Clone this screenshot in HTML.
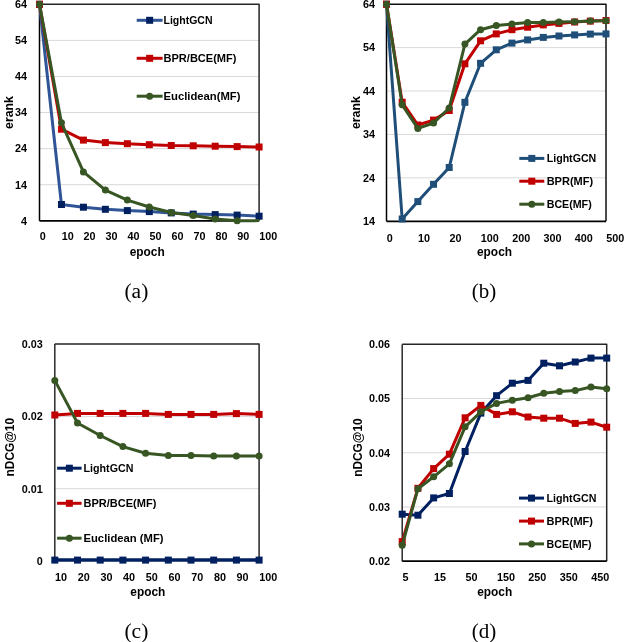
<!DOCTYPE html>
<html><head><meta charset="utf-8"><style>
html,body{margin:0;padding:0;background:#fff;width:626px;height:642px;overflow:hidden}
svg{display:block;will-change:transform}
</style></head><body>
<svg width="626" height="642" viewBox="0 0 626 642">
<rect width="626" height="642" fill="#fff"/>
<line x1="39.5" y1="184.71666666666667" x2="259.1" y2="184.71666666666667" stroke="#D9D9D9" stroke-width="1"/>
<line x1="39.5" y1="148.63333333333333" x2="259.1" y2="148.63333333333333" stroke="#D9D9D9" stroke-width="1"/>
<line x1="39.5" y1="112.55000000000001" x2="259.1" y2="112.55000000000001" stroke="#D9D9D9" stroke-width="1"/>
<line x1="39.5" y1="76.46666666666667" x2="259.1" y2="76.46666666666667" stroke="#D9D9D9" stroke-width="1"/>
<line x1="39.5" y1="40.383333333333354" x2="259.1" y2="40.383333333333354" stroke="#D9D9D9" stroke-width="1"/>
<text x="27" y="224.60000000000002" font-family='"Liberation Sans", sans-serif' font-size="10.8" font-weight="bold" text-anchor="end" fill="#000" >4</text>
<text x="27" y="188.51666666666668" font-family='"Liberation Sans", sans-serif' font-size="10.8" font-weight="bold" text-anchor="end" fill="#000" >14</text>
<text x="27" y="152.43333333333334" font-family='"Liberation Sans", sans-serif' font-size="10.8" font-weight="bold" text-anchor="end" fill="#000" >24</text>
<text x="27" y="116.35000000000001" font-family='"Liberation Sans", sans-serif' font-size="10.8" font-weight="bold" text-anchor="end" fill="#000" >34</text>
<text x="27" y="80.26666666666667" font-family='"Liberation Sans", sans-serif' font-size="10.8" font-weight="bold" text-anchor="end" fill="#000" >44</text>
<text x="27" y="44.18333333333335" font-family='"Liberation Sans", sans-serif' font-size="10.8" font-weight="bold" text-anchor="end" fill="#000" >54</text>
<text x="27" y="8.100000000000012" font-family='"Liberation Sans", sans-serif' font-size="10.8" font-weight="bold" text-anchor="end" fill="#000" >64</text>
<text x="39.7" y="240.2" font-family='"Liberation Sans", sans-serif' font-size="10.8" font-weight="bold" text-anchor="start" fill="#000" >0</text>
<text x="61.660000000000004" y="240.2" font-family='"Liberation Sans", sans-serif' font-size="10.8" font-weight="bold" text-anchor="start" fill="#000" >10</text>
<text x="83.62" y="240.2" font-family='"Liberation Sans", sans-serif' font-size="10.8" font-weight="bold" text-anchor="start" fill="#000" >20</text>
<text x="105.58000000000001" y="240.2" font-family='"Liberation Sans", sans-serif' font-size="10.8" font-weight="bold" text-anchor="start" fill="#000" >30</text>
<text x="127.54" y="240.2" font-family='"Liberation Sans", sans-serif' font-size="10.8" font-weight="bold" text-anchor="start" fill="#000" >40</text>
<text x="149.5" y="240.2" font-family='"Liberation Sans", sans-serif' font-size="10.8" font-weight="bold" text-anchor="start" fill="#000" >50</text>
<text x="171.46" y="240.2" font-family='"Liberation Sans", sans-serif' font-size="10.8" font-weight="bold" text-anchor="start" fill="#000" >60</text>
<text x="193.42000000000002" y="240.2" font-family='"Liberation Sans", sans-serif' font-size="10.8" font-weight="bold" text-anchor="start" fill="#000" >70</text>
<text x="215.38" y="240.2" font-family='"Liberation Sans", sans-serif' font-size="10.8" font-weight="bold" text-anchor="start" fill="#000" >80</text>
<text x="237.34" y="240.2" font-family='"Liberation Sans", sans-serif' font-size="10.8" font-weight="bold" text-anchor="start" fill="#000" >90</text>
<text x="259.3" y="240.2" font-family='"Liberation Sans", sans-serif' font-size="10.8" font-weight="bold" text-anchor="start" fill="#000" >100</text>
<text x="147.2" y="256.1" font-family='"Liberation Sans", sans-serif' font-size="12" font-weight="bold" text-anchor="middle" fill="#000" textLength="35" lengthAdjust="spacingAndGlyphs" >epoch</text>
<text x="0" y="0" transform="translate(12.6,112.5) rotate(-90)" font-family='"Liberation Sans", sans-serif' font-size="12.2" font-weight="bold" text-anchor="middle" textLength="33" lengthAdjust="spacingAndGlyphs">erank</text>
<polyline points="39.5,4.3 259.1,4.3 259.1,220.8" fill="none" stroke="#262626" stroke-width="1.5" stroke-linejoin="round"/>
<line x1="39.5" y1="4.3" x2="39.5" y2="220.8" stroke="#000" stroke-width="1.5"/>
<line x1="39.5" y1="220.8" x2="259.1" y2="220.8" stroke="#000" stroke-width="1.7"/>
<polyline points="39.50,4.30 61.46,204.50 83.42,207.20 105.38,209.30 127.34,210.60 149.30,211.60 171.26,212.90 193.22,214.10 215.18,214.60 237.14,215.10 259.10,216.20" fill="none" stroke="#2F5597" stroke-width="3" stroke-linejoin="round" stroke-linecap="round"/>
<rect x="36.00" y="0.80" width="7" height="7" fill="#002060"/>
<rect x="57.96" y="201.00" width="7" height="7" fill="#002060"/>
<rect x="79.92" y="203.70" width="7" height="7" fill="#002060"/>
<rect x="101.88" y="205.80" width="7" height="7" fill="#002060"/>
<rect x="123.84" y="207.10" width="7" height="7" fill="#002060"/>
<rect x="145.80" y="208.10" width="7" height="7" fill="#002060"/>
<rect x="167.76" y="209.40" width="7" height="7" fill="#002060"/>
<rect x="189.72" y="210.60" width="7" height="7" fill="#002060"/>
<rect x="211.68" y="211.10" width="7" height="7" fill="#002060"/>
<rect x="233.64" y="211.60" width="7" height="7" fill="#002060"/>
<rect x="255.60" y="212.70" width="7" height="7" fill="#002060"/>
<polyline points="39.50,4.30 61.46,129.20 83.42,140.10 105.38,142.60 127.34,143.70 149.30,144.70 171.26,145.50 193.22,145.80 215.18,146.20 237.14,146.60 259.10,147.00" fill="none" stroke="#C00000" stroke-width="3" stroke-linejoin="round" stroke-linecap="round"/>
<rect x="36.00" y="0.80" width="7" height="7" fill="#C00000"/>
<rect x="57.96" y="125.70" width="7" height="7" fill="#C00000"/>
<rect x="79.92" y="136.60" width="7" height="7" fill="#C00000"/>
<rect x="101.88" y="139.10" width="7" height="7" fill="#C00000"/>
<rect x="123.84" y="140.20" width="7" height="7" fill="#C00000"/>
<rect x="145.80" y="141.20" width="7" height="7" fill="#C00000"/>
<rect x="167.76" y="142.00" width="7" height="7" fill="#C00000"/>
<rect x="189.72" y="142.30" width="7" height="7" fill="#C00000"/>
<rect x="211.68" y="142.70" width="7" height="7" fill="#C00000"/>
<rect x="233.64" y="143.10" width="7" height="7" fill="#C00000"/>
<rect x="255.60" y="143.50" width="7" height="7" fill="#C00000"/>
<polyline points="39.50,4.30 61.46,122.80 83.42,171.90 105.38,190.10 127.34,200.10 149.30,207.00 171.26,212.50 193.22,215.40 215.18,218.90 237.14,220.80" fill="none" stroke="#375623" stroke-width="3" stroke-linejoin="round" stroke-linecap="round"/>
<circle cx="39.50" cy="4.30" r="3.5" fill="#375623"/>
<circle cx="61.46" cy="122.80" r="3.5" fill="#375623"/>
<circle cx="83.42" cy="171.90" r="3.5" fill="#375623"/>
<circle cx="105.38" cy="190.10" r="3.5" fill="#375623"/>
<circle cx="127.34" cy="200.10" r="3.5" fill="#375623"/>
<circle cx="149.30" cy="207.00" r="3.5" fill="#375623"/>
<circle cx="171.26" cy="212.50" r="3.5" fill="#375623"/>
<circle cx="193.22" cy="215.40" r="3.5" fill="#375623"/>
<circle cx="215.18" cy="218.90" r="3.5" fill="#375623"/>
<circle cx="237.14" cy="220.80" r="3.5" fill="#375623"/>
<line x1="237.14000000000001" y1="220.8" x2="259.1" y2="220.6" stroke="#375623" stroke-width="3"/>
<line x1="136.7" y1="20.3" x2="162.6" y2="20.3" stroke="#2F5597" stroke-width="3"/>
<rect x="146.15" y="16.80" width="7" height="7" fill="#002060"/>
<text x="163.5" y="24.1" font-family='"Liberation Sans", sans-serif' font-size="10.5" font-weight="bold" text-anchor="start" fill="#000" textLength="49" lengthAdjust="spacingAndGlyphs" >LightGCN</text>
<line x1="136.7" y1="58.3" x2="162.6" y2="58.3" stroke="#C00000" stroke-width="3"/>
<rect x="146.15" y="54.80" width="7" height="7" fill="#C00000"/>
<text x="163.5" y="62.1" font-family='"Liberation Sans", sans-serif' font-size="10.5" font-weight="bold" text-anchor="start" fill="#000" textLength="73" lengthAdjust="spacingAndGlyphs" >BPR/BCE(MF)</text>
<line x1="136.7" y1="96.2" x2="162.6" y2="96.2" stroke="#375623" stroke-width="3"/>
<circle cx="149.65" cy="96.20" r="3.5" fill="#375623"/>
<text x="163.5" y="99.9" font-family='"Liberation Sans", sans-serif' font-size="10.5" font-weight="bold" text-anchor="start" fill="#000" textLength="77" lengthAdjust="spacingAndGlyphs" >Euclidean(MF)</text>
<text x="136.4" y="297.5" font-family='"Liberation Serif", serif' font-size="20" font-weight="normal" text-anchor="middle" fill="#000" textLength="23.9" lengthAdjust="spacingAndGlyphs" >(a)</text>
<line x1="386.5" y1="177.88" x2="606.0" y2="177.88" stroke="#D9D9D9" stroke-width="1"/>
<line x1="386.5" y1="134.46" x2="606.0" y2="134.46" stroke="#D9D9D9" stroke-width="1"/>
<line x1="386.5" y1="91.03999999999999" x2="606.0" y2="91.03999999999999" stroke="#D9D9D9" stroke-width="1"/>
<line x1="386.5" y1="47.620000000000005" x2="606.0" y2="47.620000000000005" stroke="#D9D9D9" stroke-width="1"/>
<text x="375" y="225.10000000000002" font-family='"Liberation Sans", sans-serif' font-size="10.8" font-weight="bold" text-anchor="end" fill="#000" >14</text>
<text x="375" y="181.68" font-family='"Liberation Sans", sans-serif' font-size="10.8" font-weight="bold" text-anchor="end" fill="#000" >24</text>
<text x="375" y="138.26000000000002" font-family='"Liberation Sans", sans-serif' font-size="10.8" font-weight="bold" text-anchor="end" fill="#000" >34</text>
<text x="375" y="94.83999999999999" font-family='"Liberation Sans", sans-serif' font-size="10.8" font-weight="bold" text-anchor="end" fill="#000" >44</text>
<text x="375" y="51.42" font-family='"Liberation Sans", sans-serif' font-size="10.8" font-weight="bold" text-anchor="end" fill="#000" >54</text>
<text x="375" y="7.9999999999999885" font-family='"Liberation Sans", sans-serif' font-size="10.8" font-weight="bold" text-anchor="end" fill="#000" >64</text>
<text x="386.7" y="241.5" font-family='"Liberation Sans", sans-serif' font-size="10.8" font-weight="bold" text-anchor="start" fill="#000" >0</text>
<text x="418.0571428571428" y="241.5" font-family='"Liberation Sans", sans-serif' font-size="10.8" font-weight="bold" text-anchor="start" fill="#000" >10</text>
<text x="449.4142857142857" y="241.5" font-family='"Liberation Sans", sans-serif' font-size="10.8" font-weight="bold" text-anchor="start" fill="#000" >20</text>
<text x="480.77142857142854" y="241.5" font-family='"Liberation Sans", sans-serif' font-size="10.8" font-weight="bold" text-anchor="start" fill="#000" >100</text>
<text x="512.1285714285715" y="241.5" font-family='"Liberation Sans", sans-serif' font-size="10.8" font-weight="bold" text-anchor="start" fill="#000" >200</text>
<text x="543.4857142857143" y="241.5" font-family='"Liberation Sans", sans-serif' font-size="10.8" font-weight="bold" text-anchor="start" fill="#000" >300</text>
<text x="574.8428571428572" y="241.5" font-family='"Liberation Sans", sans-serif' font-size="10.8" font-weight="bold" text-anchor="start" fill="#000" >400</text>
<text x="606.2" y="241.5" font-family='"Liberation Sans", sans-serif' font-size="10.8" font-weight="bold" text-anchor="start" fill="#000" >500</text>
<text x="494.5" y="256.2" font-family='"Liberation Sans", sans-serif' font-size="12" font-weight="bold" text-anchor="middle" fill="#000" textLength="35" lengthAdjust="spacingAndGlyphs" >epoch</text>
<text x="0" y="0" transform="translate(360.2,112.6) rotate(-90)" font-family='"Liberation Sans", sans-serif' font-size="12.2" font-weight="bold" text-anchor="middle" textLength="33" lengthAdjust="spacingAndGlyphs">erank</text>
<polyline points="386.5,4.2 606.0,4.2 606.0,221.3" fill="none" stroke="#111" stroke-width="1.5" stroke-linejoin="round"/>
<line x1="386.5" y1="4.2" x2="386.5" y2="221.3" stroke="#000" stroke-width="1.5"/>
<line x1="386.5" y1="221.3" x2="606.0" y2="221.3" stroke="#000" stroke-width="1.7"/>
<polyline points="386.50,4.20 402.18,219.00 417.86,201.60 433.54,184.30 449.21,167.50 464.89,102.30 480.57,63.30 496.25,49.80 511.93,43.10 527.61,39.90 543.29,37.40 558.96,36.00 574.64,34.90 590.32,34.10 606.00,33.90" fill="none" stroke="#1F4E79" stroke-width="3" stroke-linejoin="round" stroke-linecap="round"/>
<rect x="383.00" y="0.70" width="7" height="7" fill="#1F4E79"/>
<rect x="398.68" y="215.50" width="7" height="7" fill="#1F4E79"/>
<rect x="414.36" y="198.10" width="7" height="7" fill="#1F4E79"/>
<rect x="430.04" y="180.80" width="7" height="7" fill="#1F4E79"/>
<rect x="445.71" y="164.00" width="7" height="7" fill="#1F4E79"/>
<rect x="461.39" y="98.80" width="7" height="7" fill="#1F4E79"/>
<rect x="477.07" y="59.80" width="7" height="7" fill="#1F4E79"/>
<rect x="492.75" y="46.30" width="7" height="7" fill="#1F4E79"/>
<rect x="508.43" y="39.60" width="7" height="7" fill="#1F4E79"/>
<rect x="524.11" y="36.40" width="7" height="7" fill="#1F4E79"/>
<rect x="539.79" y="33.90" width="7" height="7" fill="#1F4E79"/>
<rect x="555.46" y="32.50" width="7" height="7" fill="#1F4E79"/>
<rect x="571.14" y="31.40" width="7" height="7" fill="#1F4E79"/>
<rect x="586.82" y="30.60" width="7" height="7" fill="#1F4E79"/>
<rect x="602.50" y="30.40" width="7" height="7" fill="#1F4E79"/>
<polyline points="386.50,4.20 402.18,102.20 417.86,125.00 433.54,120.10 449.21,110.50 464.89,63.80 480.57,40.80 496.25,33.90 511.93,29.70 527.61,27.20 543.29,24.90 558.96,23.40 574.64,22.00 590.32,21.10 606.00,20.50" fill="none" stroke="#C00000" stroke-width="3" stroke-linejoin="round" stroke-linecap="round"/>
<rect x="383.00" y="0.70" width="7" height="7" fill="#C00000"/>
<rect x="398.68" y="98.70" width="7" height="7" fill="#C00000"/>
<rect x="414.36" y="121.50" width="7" height="7" fill="#C00000"/>
<rect x="430.04" y="116.60" width="7" height="7" fill="#C00000"/>
<rect x="445.71" y="107.00" width="7" height="7" fill="#C00000"/>
<rect x="461.39" y="60.30" width="7" height="7" fill="#C00000"/>
<rect x="477.07" y="37.30" width="7" height="7" fill="#C00000"/>
<rect x="492.75" y="30.40" width="7" height="7" fill="#C00000"/>
<rect x="508.43" y="26.20" width="7" height="7" fill="#C00000"/>
<rect x="524.11" y="23.70" width="7" height="7" fill="#C00000"/>
<rect x="539.79" y="21.40" width="7" height="7" fill="#C00000"/>
<rect x="555.46" y="19.90" width="7" height="7" fill="#C00000"/>
<rect x="571.14" y="18.50" width="7" height="7" fill="#C00000"/>
<rect x="586.82" y="17.60" width="7" height="7" fill="#C00000"/>
<rect x="602.50" y="17.00" width="7" height="7" fill="#C00000"/>
<polyline points="386.50,4.20 402.18,104.80 417.86,128.40 433.54,123.00 449.21,108.00 464.89,44.10 480.57,29.70 496.25,25.50 511.93,24.00 527.61,22.60 543.29,22.40 558.96,22.00 574.64,21.70 590.32,21.10 606.00,20.70" fill="none" stroke="#375623" stroke-width="3" stroke-linejoin="round" stroke-linecap="round"/>
<circle cx="386.50" cy="4.20" r="3.5" fill="#375623"/>
<circle cx="402.18" cy="104.80" r="3.5" fill="#375623"/>
<circle cx="417.86" cy="128.40" r="3.5" fill="#375623"/>
<circle cx="433.54" cy="123.00" r="3.5" fill="#375623"/>
<circle cx="449.21" cy="108.00" r="3.5" fill="#375623"/>
<circle cx="464.89" cy="44.10" r="3.5" fill="#375623"/>
<circle cx="480.57" cy="29.70" r="3.5" fill="#375623"/>
<circle cx="496.25" cy="25.50" r="3.5" fill="#375623"/>
<circle cx="511.93" cy="24.00" r="3.5" fill="#375623"/>
<circle cx="527.61" cy="22.60" r="3.5" fill="#375623"/>
<circle cx="543.29" cy="22.40" r="3.5" fill="#375623"/>
<circle cx="558.96" cy="22.00" r="3.5" fill="#375623"/>
<circle cx="574.64" cy="21.70" r="3.5" fill="#375623"/>
<circle cx="590.32" cy="21.10" r="3.5" fill="#375623"/>
<circle cx="606.00" cy="20.70" r="3.5" fill="#375623"/>
<line x1="519.3" y1="158.4" x2="544.3" y2="158.4" stroke="#1F4E79" stroke-width="3"/>
<rect x="528.30" y="154.90" width="7" height="7" fill="#1F4E79"/>
<text x="546.7" y="162" font-family='"Liberation Sans", sans-serif' font-size="10.5" font-weight="bold" text-anchor="start" fill="#000" textLength="49.6" lengthAdjust="spacingAndGlyphs" >LightGCN</text>
<line x1="519.3" y1="181.2" x2="544.3" y2="181.2" stroke="#C00000" stroke-width="3"/>
<rect x="528.30" y="177.70" width="7" height="7" fill="#C00000"/>
<text x="546.7" y="184.7" font-family='"Liberation Sans", sans-serif' font-size="10.5" font-weight="bold" text-anchor="start" fill="#000" textLength="46.4" lengthAdjust="spacingAndGlyphs" >BPR(MF)</text>
<line x1="519.3" y1="204.2" x2="544.3" y2="204.2" stroke="#375623" stroke-width="3"/>
<circle cx="531.80" cy="204.20" r="3.5" fill="#375623"/>
<text x="546.7" y="207.9" font-family='"Liberation Sans", sans-serif' font-size="10.5" font-weight="bold" text-anchor="start" fill="#000" textLength="45" lengthAdjust="spacingAndGlyphs" >BCE(MF)</text>
<text x="484" y="297.5" font-family='"Liberation Serif", serif' font-size="20" font-weight="normal" text-anchor="middle" fill="#000" textLength="24.5" lengthAdjust="spacingAndGlyphs" >(b)</text>
<line x1="54.8" y1="488.7" x2="259.1" y2="488.7" stroke="#D9D9D9" stroke-width="1"/>
<line x1="54.8" y1="416.6" x2="259.1" y2="416.6" stroke="#D9D9D9" stroke-width="1"/>
<text x="42.8" y="565.07" font-family='"Liberation Sans", sans-serif' font-size="10.8" font-weight="bold" text-anchor="end" fill="#000" >0</text>
<text x="42.8" y="493.07" font-family='"Liberation Sans", sans-serif' font-size="10.8" font-weight="bold" text-anchor="end" fill="#000" >0.01</text>
<text x="42.8" y="419.87" font-family='"Liberation Sans", sans-serif' font-size="10.8" font-weight="bold" text-anchor="end" fill="#000" >0.02</text>
<text x="42.8" y="348.07" font-family='"Liberation Sans", sans-serif' font-size="10.8" font-weight="bold" text-anchor="end" fill="#000" >0.03</text>
<text x="55.0" y="580.8" font-family='"Liberation Sans", sans-serif' font-size="10.8" font-weight="bold" text-anchor="start" fill="#000" >10</text>
<text x="77.7" y="580.8" font-family='"Liberation Sans", sans-serif' font-size="10.8" font-weight="bold" text-anchor="start" fill="#000" >20</text>
<text x="100.4" y="580.8" font-family='"Liberation Sans", sans-serif' font-size="10.8" font-weight="bold" text-anchor="start" fill="#000" >30</text>
<text x="123.10000000000001" y="580.8" font-family='"Liberation Sans", sans-serif' font-size="10.8" font-weight="bold" text-anchor="start" fill="#000" >40</text>
<text x="145.8" y="580.8" font-family='"Liberation Sans", sans-serif' font-size="10.8" font-weight="bold" text-anchor="start" fill="#000" >50</text>
<text x="168.5" y="580.8" font-family='"Liberation Sans", sans-serif' font-size="10.8" font-weight="bold" text-anchor="start" fill="#000" >60</text>
<text x="191.2" y="580.8" font-family='"Liberation Sans", sans-serif' font-size="10.8" font-weight="bold" text-anchor="start" fill="#000" >70</text>
<text x="213.89999999999998" y="580.8" font-family='"Liberation Sans", sans-serif' font-size="10.8" font-weight="bold" text-anchor="start" fill="#000" >80</text>
<text x="236.60000000000002" y="580.8" font-family='"Liberation Sans", sans-serif' font-size="10.8" font-weight="bold" text-anchor="start" fill="#000" >90</text>
<text x="259.3" y="580.8" font-family='"Liberation Sans", sans-serif' font-size="10.8" font-weight="bold" text-anchor="start" fill="#000" >100</text>
<text x="147.8" y="595.8" font-family='"Liberation Sans", sans-serif' font-size="12" font-weight="bold" text-anchor="middle" fill="#000" textLength="35" lengthAdjust="spacingAndGlyphs" >epoch</text>
<text x="0" y="0" transform="translate(13.6,447.2) rotate(-90)" font-family='"Liberation Sans", sans-serif' font-size="12.2" font-weight="bold" text-anchor="middle" textLength="58.5" lengthAdjust="spacingAndGlyphs">nDCG@10</text>
<polyline points="54.8,344.1 259.1,344.1 259.1,560.1" fill="none" stroke="#262626" stroke-width="1.5" stroke-linejoin="round"/>
<line x1="54.8" y1="344.1" x2="54.8" y2="560.1" stroke="#2a2a2a" stroke-width="1.5"/>
<line x1="54.8" y1="560.1" x2="259.1" y2="560.1" stroke="#000" stroke-width="1.7"/>
<polyline points="54.80,415.00 77.50,413.40 100.20,413.40 122.90,413.40 145.60,413.40 168.30,414.40 191.00,414.40 213.70,414.40 236.40,413.60 259.10,414.40" fill="none" stroke="#C00000" stroke-width="3" stroke-linejoin="round" stroke-linecap="round"/>
<rect x="51.30" y="411.50" width="7" height="7" fill="#C00000"/>
<rect x="74.00" y="409.90" width="7" height="7" fill="#C00000"/>
<rect x="96.70" y="409.90" width="7" height="7" fill="#C00000"/>
<rect x="119.40" y="409.90" width="7" height="7" fill="#C00000"/>
<rect x="142.10" y="409.90" width="7" height="7" fill="#C00000"/>
<rect x="164.80" y="410.90" width="7" height="7" fill="#C00000"/>
<rect x="187.50" y="410.90" width="7" height="7" fill="#C00000"/>
<rect x="210.20" y="410.90" width="7" height="7" fill="#C00000"/>
<rect x="232.90" y="410.10" width="7" height="7" fill="#C00000"/>
<rect x="255.60" y="410.90" width="7" height="7" fill="#C00000"/>
<polyline points="54.80,380.40 77.50,423.00 100.20,435.50 122.90,446.60 145.60,453.30 168.30,455.50 191.00,455.50 213.70,456.10 236.40,456.10 259.10,456.10" fill="none" stroke="#375623" stroke-width="3" stroke-linejoin="round" stroke-linecap="round"/>
<circle cx="54.80" cy="380.40" r="3.5" fill="#375623"/>
<circle cx="77.50" cy="423.00" r="3.5" fill="#375623"/>
<circle cx="100.20" cy="435.50" r="3.5" fill="#375623"/>
<circle cx="122.90" cy="446.60" r="3.5" fill="#375623"/>
<circle cx="145.60" cy="453.30" r="3.5" fill="#375623"/>
<circle cx="168.30" cy="455.50" r="3.5" fill="#375623"/>
<circle cx="191.00" cy="455.50" r="3.5" fill="#375623"/>
<circle cx="213.70" cy="456.10" r="3.5" fill="#375623"/>
<circle cx="236.40" cy="456.10" r="3.5" fill="#375623"/>
<circle cx="259.10" cy="456.10" r="3.5" fill="#375623"/>
<polyline points="54.80,560.10 77.50,560.10 100.20,560.10 122.90,560.10 145.60,560.10 168.30,560.10 191.00,560.10 213.70,560.10 236.40,560.10 259.10,560.10" fill="none" stroke="#002060" stroke-width="3.5" stroke-linejoin="round" stroke-linecap="round"/>
<rect x="51.30" y="556.60" width="7" height="7" fill="#002060"/>
<rect x="74.00" y="556.60" width="7" height="7" fill="#002060"/>
<rect x="96.70" y="556.60" width="7" height="7" fill="#002060"/>
<rect x="119.40" y="556.60" width="7" height="7" fill="#002060"/>
<rect x="142.10" y="556.60" width="7" height="7" fill="#002060"/>
<rect x="164.80" y="556.60" width="7" height="7" fill="#002060"/>
<rect x="187.50" y="556.60" width="7" height="7" fill="#002060"/>
<rect x="210.20" y="556.60" width="7" height="7" fill="#002060"/>
<rect x="232.90" y="556.60" width="7" height="7" fill="#002060"/>
<rect x="255.60" y="556.60" width="7" height="7" fill="#002060"/>
<line x1="57.1" y1="468.2" x2="81.6" y2="468.2" stroke="#002060" stroke-width="3"/>
<rect x="65.85" y="464.70" width="7" height="7" fill="#002060"/>
<text x="83.5" y="471.9" font-family='"Liberation Sans", sans-serif' font-size="10.5" font-weight="bold" text-anchor="start" fill="#000" textLength="49.9" lengthAdjust="spacingAndGlyphs" >LightGCN</text>
<line x1="57.1" y1="503.3" x2="81.6" y2="503.3" stroke="#C00000" stroke-width="3"/>
<rect x="65.85" y="499.80" width="7" height="7" fill="#C00000"/>
<text x="83.5" y="507" font-family='"Liberation Sans", sans-serif' font-size="10.5" font-weight="bold" text-anchor="start" fill="#000" textLength="72.9" lengthAdjust="spacingAndGlyphs" >BPR/BCE(MF)</text>
<line x1="57.1" y1="538.2" x2="81.6" y2="538.2" stroke="#375623" stroke-width="3"/>
<circle cx="69.35" cy="538.20" r="3.5" fill="#375623"/>
<text x="83.5" y="541.9" font-family='"Liberation Sans", sans-serif' font-size="10.5" font-weight="bold" text-anchor="start" fill="#000" textLength="80" lengthAdjust="spacingAndGlyphs" >Euclidean (MF)</text>
<text x="136.4" y="637.8" font-family='"Liberation Serif", serif' font-size="20" font-weight="normal" text-anchor="middle" fill="#000" textLength="23.9" lengthAdjust="spacingAndGlyphs" >(c)</text>
<line x1="402.2" y1="506.975" x2="606.7" y2="506.975" stroke="#D9D9D9" stroke-width="1"/>
<line x1="402.2" y1="452.75" x2="606.7" y2="452.75" stroke="#D9D9D9" stroke-width="1"/>
<line x1="402.2" y1="398.525" x2="606.7" y2="398.525" stroke="#D9D9D9" stroke-width="1"/>
<text x="390.1" y="565.0" font-family='"Liberation Sans", sans-serif' font-size="10.8" font-weight="bold" text-anchor="end" fill="#000" >0.02</text>
<text x="390.1" y="510.77500000000003" font-family='"Liberation Sans", sans-serif' font-size="10.8" font-weight="bold" text-anchor="end" fill="#000" >0.03</text>
<text x="390.1" y="456.55" font-family='"Liberation Sans", sans-serif' font-size="10.8" font-weight="bold" text-anchor="end" fill="#000" >0.04</text>
<text x="390.1" y="402.325" font-family='"Liberation Sans", sans-serif' font-size="10.8" font-weight="bold" text-anchor="end" fill="#000" >0.05</text>
<text x="390.1" y="348.1000000000001" font-family='"Liberation Sans", sans-serif' font-size="10.8" font-weight="bold" text-anchor="end" fill="#000" >0.06</text>
<text x="402.5" y="580.7" font-family='"Liberation Sans", sans-serif' font-size="10.8" font-weight="bold" text-anchor="start" fill="#000" >5</text>
<text x="433.96153846153845" y="580.7" font-family='"Liberation Sans", sans-serif' font-size="10.8" font-weight="bold" text-anchor="start" fill="#000" >15</text>
<text x="465.42307692307696" y="580.7" font-family='"Liberation Sans", sans-serif' font-size="10.8" font-weight="bold" text-anchor="start" fill="#000" >50</text>
<text x="496.8846153846154" y="580.7" font-family='"Liberation Sans", sans-serif' font-size="10.8" font-weight="bold" text-anchor="start" fill="#000" >150</text>
<text x="528.3461538461538" y="580.7" font-family='"Liberation Sans", sans-serif' font-size="10.8" font-weight="bold" text-anchor="start" fill="#000" >250</text>
<text x="559.8076923076923" y="580.7" font-family='"Liberation Sans", sans-serif' font-size="10.8" font-weight="bold" text-anchor="start" fill="#000" >350</text>
<text x="591.2692307692307" y="580.7" font-family='"Liberation Sans", sans-serif' font-size="10.8" font-weight="bold" text-anchor="start" fill="#000" >450</text>
<text x="494.7" y="595.7" font-family='"Liberation Sans", sans-serif' font-size="12" font-weight="bold" text-anchor="middle" fill="#000" textLength="35" lengthAdjust="spacingAndGlyphs" >epoch</text>
<text x="0" y="0" transform="translate(361.9,447.6) rotate(-90)" font-family='"Liberation Sans", sans-serif' font-size="12.2" font-weight="bold" text-anchor="middle" textLength="58.5" lengthAdjust="spacingAndGlyphs">nDCG@10</text>
<polyline points="402.2,344.3 606.7,344.3 606.7,561.2" fill="none" stroke="#262626" stroke-width="1.5" stroke-linejoin="round"/>
<line x1="402.2" y1="344.3" x2="402.2" y2="561.2" stroke="#2a2a2a" stroke-width="1.5"/>
<line x1="402.2" y1="561.2" x2="606.7" y2="561.2" stroke="#000" stroke-width="1.7"/>
<polyline points="402.20,514.20 417.93,515.20 433.66,497.90 449.39,493.50 465.12,451.50 480.85,413.10 496.58,395.70 512.32,383.20 528.05,380.40 543.78,363.20 559.51,365.80 575.24,362.00 590.97,358.10 606.70,358.10" fill="none" stroke="#002060" stroke-width="3" stroke-linejoin="round" stroke-linecap="round"/>
<rect x="398.70" y="510.70" width="7" height="7" fill="#002060"/>
<rect x="414.43" y="511.70" width="7" height="7" fill="#002060"/>
<rect x="430.16" y="494.40" width="7" height="7" fill="#002060"/>
<rect x="445.89" y="490.00" width="7" height="7" fill="#002060"/>
<rect x="461.62" y="448.00" width="7" height="7" fill="#002060"/>
<rect x="477.35" y="409.60" width="7" height="7" fill="#002060"/>
<rect x="493.08" y="392.20" width="7" height="7" fill="#002060"/>
<rect x="508.82" y="379.70" width="7" height="7" fill="#002060"/>
<rect x="524.55" y="376.90" width="7" height="7" fill="#002060"/>
<rect x="540.28" y="359.70" width="7" height="7" fill="#002060"/>
<rect x="556.01" y="362.30" width="7" height="7" fill="#002060"/>
<rect x="571.74" y="358.50" width="7" height="7" fill="#002060"/>
<rect x="587.47" y="354.60" width="7" height="7" fill="#002060"/>
<rect x="603.20" y="354.60" width="7" height="7" fill="#002060"/>
<polyline points="402.20,541.60 417.93,488.30 433.66,468.60 449.39,454.20 465.12,417.80 480.85,405.40 496.58,414.40 512.32,411.80 528.05,417.00 543.78,418.20 559.51,418.20 575.24,423.40 590.97,422.10 606.70,427.20" fill="none" stroke="#C00000" stroke-width="3" stroke-linejoin="round" stroke-linecap="round"/>
<rect x="398.70" y="538.10" width="7" height="7" fill="#C00000"/>
<rect x="414.43" y="484.80" width="7" height="7" fill="#C00000"/>
<rect x="430.16" y="465.10" width="7" height="7" fill="#C00000"/>
<rect x="445.89" y="450.70" width="7" height="7" fill="#C00000"/>
<rect x="461.62" y="414.30" width="7" height="7" fill="#C00000"/>
<rect x="477.35" y="401.90" width="7" height="7" fill="#C00000"/>
<rect x="493.08" y="410.90" width="7" height="7" fill="#C00000"/>
<rect x="508.82" y="408.30" width="7" height="7" fill="#C00000"/>
<rect x="524.55" y="413.50" width="7" height="7" fill="#C00000"/>
<rect x="540.28" y="414.70" width="7" height="7" fill="#C00000"/>
<rect x="556.01" y="414.70" width="7" height="7" fill="#C00000"/>
<rect x="571.74" y="419.90" width="7" height="7" fill="#C00000"/>
<rect x="587.47" y="418.60" width="7" height="7" fill="#C00000"/>
<rect x="603.20" y="423.70" width="7" height="7" fill="#C00000"/>
<polyline points="402.20,545.30 417.93,488.70 433.66,476.80 449.39,463.80 465.12,426.80 480.85,411.80 496.58,403.40 512.32,400.30 528.05,397.80 543.78,393.20 559.51,391.40 575.24,390.60 590.97,387.00 606.70,388.80" fill="none" stroke="#375623" stroke-width="3" stroke-linejoin="round" stroke-linecap="round"/>
<circle cx="402.20" cy="545.30" r="3.5" fill="#375623"/>
<circle cx="417.93" cy="488.70" r="3.5" fill="#375623"/>
<circle cx="433.66" cy="476.80" r="3.5" fill="#375623"/>
<circle cx="449.39" cy="463.80" r="3.5" fill="#375623"/>
<circle cx="465.12" cy="426.80" r="3.5" fill="#375623"/>
<circle cx="480.85" cy="411.80" r="3.5" fill="#375623"/>
<circle cx="496.58" cy="403.40" r="3.5" fill="#375623"/>
<circle cx="512.32" cy="400.30" r="3.5" fill="#375623"/>
<circle cx="528.05" cy="397.80" r="3.5" fill="#375623"/>
<circle cx="543.78" cy="393.20" r="3.5" fill="#375623"/>
<circle cx="559.51" cy="391.40" r="3.5" fill="#375623"/>
<circle cx="575.24" cy="390.60" r="3.5" fill="#375623"/>
<circle cx="590.97" cy="387.00" r="3.5" fill="#375623"/>
<circle cx="606.70" cy="388.80" r="3.5" fill="#375623"/>
<line x1="519" y1="498.1" x2="544" y2="498.1" stroke="#002060" stroke-width="3"/>
<rect x="528.00" y="494.60" width="7" height="7" fill="#002060"/>
<text x="546.6" y="501.8" font-family='"Liberation Sans", sans-serif' font-size="10.5" font-weight="bold" text-anchor="start" fill="#000" textLength="49.8" lengthAdjust="spacingAndGlyphs" >LightGCN</text>
<line x1="519" y1="521.1" x2="544" y2="521.1" stroke="#C00000" stroke-width="3"/>
<rect x="528.00" y="517.60" width="7" height="7" fill="#C00000"/>
<text x="546.6" y="524.8" font-family='"Liberation Sans", sans-serif' font-size="10.5" font-weight="bold" text-anchor="start" fill="#000" textLength="46.4" lengthAdjust="spacingAndGlyphs" >BPR(MF)</text>
<line x1="519" y1="543.9" x2="544" y2="543.9" stroke="#375623" stroke-width="3"/>
<circle cx="531.50" cy="543.90" r="3.5" fill="#375623"/>
<text x="546.6" y="547.6" font-family='"Liberation Sans", sans-serif' font-size="10.5" font-weight="bold" text-anchor="start" fill="#000" textLength="45" lengthAdjust="spacingAndGlyphs" >BCE(MF)</text>
<text x="484.1" y="637.8" font-family='"Liberation Serif", serif' font-size="20" font-weight="normal" text-anchor="middle" fill="#000" textLength="24.5" lengthAdjust="spacingAndGlyphs" >(d)</text>
</svg>
</body></html>
